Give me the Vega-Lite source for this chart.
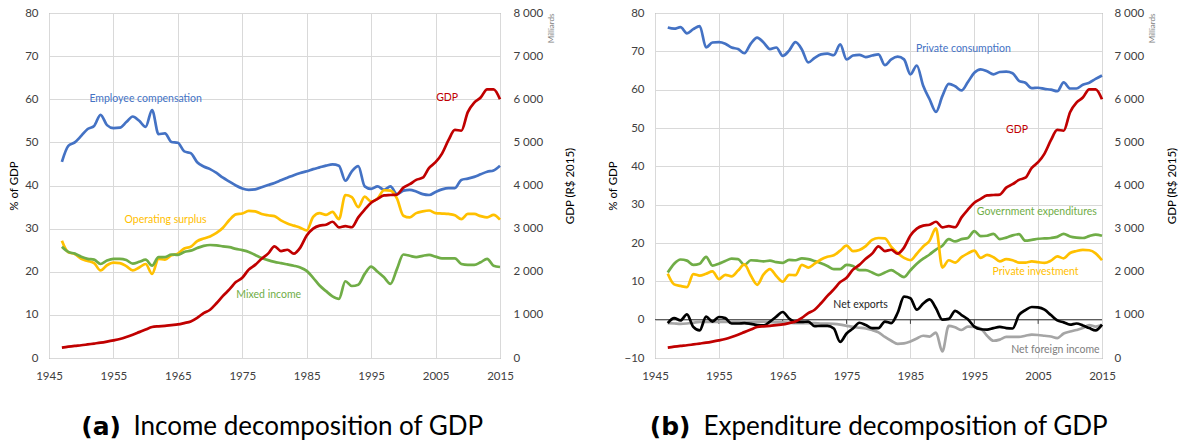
{
  "$schema": "https://vega.github.io/schema/vega-lite/v6.json",
  "padding": {"left": 8, "top": 6, "right": 0, "bottom": 0},
  "spacing": 155,
  "bounds": "flush",
  "config": {
    "font": "Lato",
    "view": {"stroke": "#7f7f7f", "strokeWidth": 1},
    "axis": {
      "labelFont": "Lato", "labelFontSize": 11.5, "labelColor": "#404040",
      "titleFont": "Lato", "titleFontSize": 11.5, "titleFontWeight": "normal", "titleColor": "#000000",
      "ticks": false, "domain": false, "gridColor": "#d9d9d9", "gridWidth": 1
    },
    "line": {"strokeWidth": 2.7, "interpolate": "monotone"}
  },
  "datasets": {
    "annual": [
      {"year":1947,"emp":45.5,"surplus":27.2,"mixed":25.8,"gdp":240,"cons":76.2,"gov":12.3,"inv":12.0,"nx":-0.9,"nfi":-0.9},
      {"year":1948,"emp":49.2,"surplus":24.5,"mixed":24.6,"gdp":262,"cons":75.9,"gov":14.6,"inv":9.2,"nx":0.4,"nfi":-1.0},
      {"year":1949,"emp":50.0,"surplus":24.1,"mixed":24.2,"gdp":280,"cons":76.3,"gov":15.7,"inv":8.8,"nx":-0.2,"nfi":-1.1},
      {"year":1950,"emp":51.5,"surplus":23.0,"mixed":23.5,"gdp":295,"cons":74.7,"gov":15.4,"inv":8.5,"nx":1.4,"nfi":-1.0},
      {"year":1951,"emp":53.1,"surplus":22.5,"mixed":23.0,"gdp":315,"cons":75.8,"gov":14.3,"inv":11.9,"nx":-1.9,"nfi":-0.8},
      {"year":1952,"emp":53.8,"surplus":22.0,"mixed":22.8,"gdp":335,"cons":76.6,"gov":14.6,"inv":11.5,"nx":-2.8,"nfi":-0.6},
      {"year":1953,"emp":56.4,"surplus":20.3,"mixed":21.8,"gdp":355,"cons":71.0,"gov":16.4,"inv":12.0,"nx":0.8,"nfi":-0.6},
      {"year":1954,"emp":54.0,"surplus":21.5,"mixed":22.6,"gdp":380,"cons":72.3,"gov":14.1,"inv":12.6,"nx":-0.5,"nfi":-0.6},
      {"year":1955,"emp":53.3,"surplus":22.1,"mixed":23.0,"gdp":408,"cons":72.4,"gov":14.6,"inv":10.6,"nx":0.7,"nfi":-0.6},
      {"year":1956,"emp":53.4,"surplus":22.0,"mixed":23.0,"gdp":440,"cons":72.0,"gov":15.3,"inv":11.7,"nx":0.4,"nfi":-0.6},
      {"year":1957,"emp":54.7,"surplus":21.3,"mixed":22.7,"gdp":486,"cons":71.0,"gov":15.9,"inv":11.3,"nx":-1.0,"nfi":-0.6},
      {"year":1958,"emp":56.0,"surplus":20.3,"mixed":21.9,"gdp":540,"cons":70.6,"gov":15.8,"inv":12.8,"nx":-1.0,"nfi":-0.6},
      {"year":1959,"emp":55.0,"surplus":21.0,"mixed":22.3,"gdp":600,"cons":69.5,"gov":14.3,"inv":14.4,"nx":-0.9,"nfi":-0.7},
      {"year":1960,"emp":53.6,"surplus":21.8,"mixed":22.8,"gdp":660,"cons":72.0,"gov":15.5,"inv":11.5,"nx":-1.1,"nfi":-0.7},
      {"year":1961,"emp":57.5,"surplus":19.5,"mixed":21.4,"gdp":718,"cons":73.6,"gov":15.4,"inv":9.1,"nx":-1.4,"nfi":-0.6},
      {"year":1962,"emp":51.9,"surplus":23.0,"mixed":23.4,"gdp":735,"cons":72.3,"gov":15.2,"inv":11.8,"nx":-1.5,"nfi":-0.5},
      {"year":1963,"emp":52.1,"surplus":22.8,"mixed":23.4,"gdp":745,"cons":70.6,"gov":15.4,"inv":13.2,"nx":-0.5,"nfi":-0.6},
      {"year":1964,"emp":50.1,"surplus":23.8,"mixed":24.0,"gdp":762,"cons":71.0,"gov":15.0,"inv":11.4,"nx":0.8,"nfi":-0.7},
      {"year":1965,"emp":49.9,"surplus":24.2,"mixed":23.9,"gdp":778,"cons":68.8,"gov":14.8,"inv":9.9,"nx":2.0,"nfi":-0.7},
      {"year":1966,"emp":47.9,"surplus":25.4,"mixed":24.6,"gdp":810,"cons":70.2,"gov":15.6,"inv":11.7,"nx":0.3,"nfi":-0.8},
      {"year":1967,"emp":47.5,"surplus":25.8,"mixed":24.9,"gdp":847,"cons":72.4,"gov":15.5,"inv":11.6,"nx":-0.6,"nfi":-0.9},
      {"year":1968,"emp":45.4,"surplus":27.1,"mixed":25.5,"gdp":930,"cons":70.5,"gov":16.0,"inv":14.3,"nx":-0.6,"nfi":-0.9},
      {"year":1969,"emp":44.4,"surplus":27.7,"mixed":26.0,"gdp":1040,"cons":67.1,"gov":15.8,"inv":13.6,"nx":-0.5,"nfi":-0.9},
      {"year":1970,"emp":43.8,"surplus":28.2,"mixed":26.2,"gdp":1120,"cons":68.3,"gov":15.3,"inv":14.6,"nx":-1.7,"nfi":-0.9},
      {"year":1971,"emp":42.9,"surplus":29.0,"mixed":26.1,"gdp":1270,"cons":69.2,"gov":14.7,"inv":15.7,"nx":-1.6,"nfi":-1.0},
      {"year":1972,"emp":41.8,"surplus":30.2,"mixed":25.9,"gdp":1440,"cons":69.4,"gov":14.0,"inv":16.4,"nx":-1.6,"nfi":-1.0},
      {"year":1973,"emp":40.9,"surplus":32.0,"mixed":25.7,"gdp":1590,"cons":69.0,"gov":13.2,"inv":16.8,"nx":-2.3,"nfi":-1.1},
      {"year":1974,"emp":40.0,"surplus":33.3,"mixed":25.3,"gdp":1760,"cons":71.8,"gov":13.2,"inv":18.0,"nx":-5.8,"nfi":-1.3},
      {"year":1975,"emp":39.3,"surplus":33.5,"mixed":25.0,"gdp":1860,"cons":67.9,"gov":14.3,"inv":19.3,"nx":-3.6,"nfi":-1.6},
      {"year":1976,"emp":39.0,"surplus":34.1,"mixed":24.6,"gdp":2050,"cons":68.9,"gov":14.0,"inv":17.9,"nx":-2.3,"nfi":-1.9},
      {"year":1977,"emp":39.1,"surplus":34.0,"mixed":23.9,"gdp":2160,"cons":69.1,"gov":12.9,"inv":18.2,"nx":-0.8,"nfi":-2.1},
      {"year":1978,"emp":39.6,"surplus":33.4,"mixed":23.2,"gdp":2300,"cons":68.5,"gov":12.9,"inv":19.2,"nx":-1.4,"nfi":-2.3},
      {"year":1979,"emp":40.1,"surplus":33.1,"mixed":22.7,"gdp":2420,"cons":68.9,"gov":12.3,"inv":20.8,"nx":-2.2,"nfi":-2.7},
      {"year":1980,"emp":40.6,"surplus":32.9,"mixed":22.3,"gdp":2590,"cons":69.2,"gov":11.6,"inv":21.3,"nx":-2.2,"nfi":-3.3},
      {"year":1981,"emp":41.2,"surplus":31.9,"mixed":22.0,"gdp":2480,"cons":66.4,"gov":12.3,"inv":21.2,"nx":-0.5,"nfi":-4.5},
      {"year":1982,"emp":41.8,"surplus":31.2,"mixed":21.7,"gdp":2510,"cons":67.9,"gov":12.9,"inv":19.0,"nx":-0.9,"nfi":-5.5},
      {"year":1983,"emp":42.4,"surplus":30.7,"mixed":21.4,"gdp":2420,"cons":68.6,"gov":12.0,"inv":17.4,"nx":1.8,"nfi":-6.3},
      {"year":1984,"emp":42.9,"surplus":30.2,"mixed":21.0,"gdp":2560,"cons":67.9,"gov":11.1,"inv":16.1,"nx":6.0,"nfi":-6.2},
      {"year":1985,"emp":43.3,"surplus":29.6,"mixed":20.2,"gdp":2840,"cons":64.0,"gov":12.9,"inv":15.5,"nx":5.6,"nfi":-5.7},
      {"year":1986,"emp":43.8,"surplus":32.7,"mixed":18.6,"gdp":3000,"cons":66.3,"gov":14.6,"inv":17.2,"nx":2.6,"nfi":-4.9},
      {"year":1987,"emp":44.2,"surplus":33.6,"mixed":16.8,"gdp":3070,"cons":61.0,"gov":15.9,"inv":19.1,"nx":4.2,"nfi":-4.2},
      {"year":1988,"emp":44.6,"surplus":33.2,"mixed":15.5,"gdp":3090,"cons":57.5,"gov":17.0,"inv":20.6,"nx":5.3,"nfi":-4.4},
      {"year":1989,"emp":44.9,"surplus":33.9,"mixed":14.3,"gdp":3160,"cons":54.2,"gov":18.3,"inv":23.8,"nx":3.0,"nfi":-3.4},
      {"year":1990,"emp":44.6,"surplus":32.2,"mixed":13.7,"gdp":3030,"cons":58.3,"gov":19.3,"inv":13.6,"nx":0.0,"nfi":-8.3},
      {"year":1991,"emp":41.1,"surplus":37.8,"mixed":17.8,"gdp":3056,"cons":61.5,"gov":21.0,"inv":15.5,"nx":0.2,"nfi":-1.6},
      {"year":1992,"emp":43.3,"surplus":37.3,"mixed":16.7,"gdp":3032,"cons":60.9,"gov":20.4,"inv":14.9,"nx":2.3,"nfi":-2.0},
      {"year":1993,"emp":44.5,"surplus":35.0,"mixed":17.0,"gdp":3260,"cons":59.8,"gov":21.0,"inv":16.3,"nx":1.2,"nfi":-2.7},
      {"year":1994,"emp":39.8,"surplus":37.4,"mixed":19.5,"gdp":3440,"cons":62.0,"gov":21.3,"inv":17.3,"nx":0.1,"nfi":-1.8},
      {"year":1995,"emp":39.2,"surplus":36.3,"mixed":21.2,"gdp":3600,"cons":64.4,"gov":23.1,"inv":18.0,"nx":-1.8,"nfi":-1.9},
      {"year":1996,"emp":39.8,"surplus":37.0,"mixed":20.0,"gdp":3690,"cons":65.3,"gov":21.8,"inv":16.1,"nx":-2.5,"nfi":-2.3},
      {"year":1997,"emp":39.0,"surplus":38.9,"mixed":18.7,"gdp":3770,"cons":64.8,"gov":21.9,"inv":16.9,"nx":-2.6,"nfi":-4.2},
      {"year":1998,"emp":39.8,"surplus":38.8,"mixed":17.2,"gdp":3780,"cons":64.0,"gov":22.4,"inv":16.3,"nx":-2.2,"nfi":-5.5},
      {"year":1999,"emp":38.0,"surplus":37.0,"mixed":20.6,"gdp":3790,"cons":64.6,"gov":21.0,"inv":15.2,"nx":-1.9,"nfi":-5.2},
      {"year":2000,"emp":38.8,"surplus":33.0,"mixed":24.0,"gdp":3950,"cons":64.7,"gov":21.4,"inv":15.8,"nx":-2.2,"nfi":-4.5},
      {"year":2001,"emp":39.0,"surplus":32.6,"mixed":23.7,"gdp":4030,"cons":64.3,"gov":22.0,"inv":15.5,"nx":-2.3,"nfi":-4.5},
      {"year":2002,"emp":38.6,"surplus":33.6,"mixed":23.4,"gdp":4130,"cons":62.3,"gov":22.3,"inv":14.9,"nx":1.2,"nfi":-4.5},
      {"year":2003,"emp":38.0,"surplus":34.0,"mixed":23.7,"gdp":4180,"cons":61.8,"gov":20.6,"inv":14.9,"nx":2.5,"nfi":-4.2},
      {"year":2004,"emp":37.8,"surplus":34.2,"mixed":23.9,"gdp":4410,"cons":60.4,"gov":20.8,"inv":15.2,"nx":3.3,"nfi":-3.9},
      {"year":2005,"emp":38.5,"surplus":33.6,"mixed":23.5,"gdp":4540,"cons":60.5,"gov":21.1,"inv":15.0,"nx":3.2,"nfi":-4.0},
      {"year":2006,"emp":39.1,"surplus":33.5,"mixed":23.1,"gdp":4740,"cons":60.2,"gov":21.2,"inv":14.8,"nx":2.6,"nfi":-4.2},
      {"year":2007,"emp":39.4,"surplus":33.4,"mixed":23.1,"gdp":5050,"cons":60.0,"gov":21.3,"inv":15.4,"nx":1.2,"nfi":-4.4},
      {"year":2008,"emp":39.4,"surplus":33.1,"mixed":23.1,"gdp":5290,"cons":59.6,"gov":21.6,"inv":16.5,"nx":-0.2,"nfi":-4.8},
      {"year":2009,"emp":41.3,"surplus":32.2,"mixed":21.8,"gdp":5270,"cons":61.9,"gov":22.4,"inv":16.0,"nx":-0.7,"nfi":-3.6},
      {"year":2010,"emp":41.6,"surplus":33.4,"mixed":21.6,"gdp":5700,"cons":60.3,"gov":21.7,"inv":17.4,"nx":-1.3,"nfi":-3.1},
      {"year":2011,"emp":42.0,"surplus":33.4,"mixed":21.6,"gdp":5920,"cons":60.3,"gov":21.4,"inv":17.9,"nx":-1.0,"nfi":-2.7},
      {"year":2012,"emp":42.6,"surplus":32.9,"mixed":22.2,"gdp":6040,"cons":61.3,"gov":21.3,"inv":18.2,"nx":-1.5,"nfi":-2.2},
      {"year":2013,"emp":43.2,"surplus":32.6,"mixed":23.0,"gdp":6230,"cons":61.8,"gov":21.8,"inv":18.1,"nx":-2.2,"nfi":-1.4},
      {"year":2014,"emp":43.5,"surplus":33.2,"mixed":21.4,"gdp":6230,"cons":62.8,"gov":22.2,"inv":17.3,"nx":-2.8,"nfi":-1.8},
      {"year":2015,"emp":44.6,"surplus":32.1,"mixed":21.1,"gdp":6000,"cons":63.7,"gov":21.9,"inv":15.5,"nx":-1.3,"nfi":-1.3}
    ],
    "decades": [
      {"year": 1955}, {"year": 1965}, {"year": 1975}, {"year": 1985}, {"year": 1995}, {"year": 2005}
    ]
  },
  "hconcat": [
    {
      "width": 451,
      "height": 345,
      "layer": [
        {
          "layer": [
            {
              "data": {"name": "annual"},
              "mark": {"type": "line", "color": "#4472C4"},
              "encoding": {
                "x": {
                  "field": "year", "type": "quantitative", "title": null,
                  "scale": {"domain": [1945, 2015], "nice": false, "zero": false},
                  "axis": {"values": [1945, 1955, 1965, 1975, 1985, 1995, 2005, 2015], "tickCount": 10, "format": "d", "grid": true, "labelPadding": 12, "labelFlush": false}
                },
                "y": {
                  "field": "emp", "type": "quantitative", "title": "% of GDP",
                  "scale": {"domain": [0, 80], "nice": false, "zero": false},
                  "axis": {"orient": "left", "values": [0, 10, 20, 30, 40, 50, 60, 70, 80], "tickCount": 12, "grid": true, "labelPadding": 11, "titlePadding": 5}
                }
              }
            },
            {
              "data": {"name": "annual"},
              "mark": {"type": "line", "color": "#FFC000"},
              "encoding": {
                "x": {"field": "year", "type": "quantitative", "title": null},
                "y": {"field": "surplus", "type": "quantitative", "title": "% of GDP"}
              }
            },
            {
              "data": {"name": "annual"},
              "mark": {"type": "line", "color": "#70AD47"},
              "encoding": {
                "x": {"field": "year", "type": "quantitative", "title": null},
                "y": {"field": "mixed", "type": "quantitative", "title": "% of GDP"}
              }
            },
            {
              "data": {"values": [{"label": "Employee compensation"}]},
              "mark": {"type": "text", "color": "#4472C4", "font": "Lato", "fontSize": 10.5},
              "encoding": {"x": {"datum": 1960.0, "type": "quantitative"}, "y": {"datum": 60.0, "type": "quantitative"}, "text": {"field": "label"}}
            },
            {
              "data": {"values": [{"label": "Operating surplus"}]},
              "mark": {"type": "text", "color": "#FFC000", "font": "Lato", "fontSize": 10.5},
              "encoding": {"x": {"datum": 1963.1, "type": "quantitative"}, "y": {"datum": 32.0, "type": "quantitative"}, "text": {"field": "label"}}
            },
            {
              "data": {"values": [{"label": "Mixed income"}]},
              "mark": {"type": "text", "color": "#70AD47", "font": "Lato", "fontSize": 10.5},
              "encoding": {"x": {"datum": 1979.1, "type": "quantitative"}, "y": {"datum": 14.65, "type": "quantitative"}, "text": {"field": "label"}}
            },
            {
              "data": {"values": [{"label": "(a)"}]},
              "mark": {"type": "text", "color": "#000000", "font": "DejaVu Sans", "fontSize": 25, "fontWeight": "bold", "align": "right", "baseline": "alphabetic"},
              "encoding": {"x": {"datum": 1956.17, "type": "quantitative"}, "y": {"datum": -17.9, "type": "quantitative"}, "text": {"field": "label"}}
            },
            {
              "data": {"values": [{"label": "Income decomposition of GDP"}]},
              "mark": {"type": "text", "color": "#000000", "font": "Lato", "fontSize": 26, "align": "left", "baseline": "alphabetic"},
              "encoding": {"x": {"datum": 1958.11, "type": "quantitative"}, "y": {"datum": -17.9, "type": "quantitative"}, "text": {"field": "label"}}
            }
          ]
        },
        {
          "data": {"name": "annual"},
          "mark": {"type": "line", "color": "#C00000"},
          "encoding": {
            "x": {"field": "year", "type": "quantitative", "title": null},
            "y": {
              "field": "gdp", "type": "quantitative",
              "scale": {"domain": [0, 8000], "nice": false, "zero": false},
              "axis": {"orient": "right", "values": [0, 1000, 2000, 3000, 4000, 5000, 6000, 7000, 8000], "tickCount": 12, "grid": false, "labelPadding": 13,
                "labelExpr": "replace(format(datum.value, ','), ',', ' ')",
                "title": "Milliards", "titleFontSize": 8, "titleColor": "#808080", "titleAnchor": "end", "titleAngle": 270, "titleBaseline": "top", "titlePadding": 5}
            }
          }
        },
        {
          "data": {"values": [{"label": "GDP"}]},
          "mark": {"type": "text", "color": "#C00000", "font": "Lato", "fontSize": 10.5},
          "encoding": {
            "x": {"datum": 2006.8, "type": "quantitative"},
            "text": {"field": "label"},
            "y": {"datum": 6040, "type": "quantitative",
              "scale": {"domain": [0, 8000], "nice": false, "zero": false},
              "axis": {"orient": "right", "labels": false, "grid": false, "title": "GDP (R$ 2015)", "titleAngle": 270, "titleBaseline": "top", "offset": 62, "titlePadding": 2}
            }
          }
        }
      ],
      "resolve": {"scale": {"y": "independent"}}
    },
    {
      "width": 447,
      "height": 345,
      "layer": [
        {
          "layer": [
            {
              "data": {"name": "annual"},
              "mark": {"type": "line", "color": "#4472C4"},
              "encoding": {
                "x": {
                  "field": "year", "type": "quantitative", "title": null,
                  "scale": {"domain": [1945, 2015], "nice": false, "zero": false},
                  "axis": {"values": [1945, 1955, 1965, 1975, 1985, 1995, 2005, 2015], "tickCount": 10, "format": "d", "grid": true, "labelPadding": 12, "labelFlush": false}
                },
                "y": {
                  "field": "cons", "type": "quantitative", "title": "% of GDP",
                  "scale": {"domain": [-10, 80], "nice": false, "zero": false},
                  "axis": {"orient": "left", "values": [-10, 0, 10, 20, 30, 40, 50, 60, 70, 80], "tickCount": 12, "grid": true, "labelPadding": 11, "titlePadding": 5}
                }
              }
            },
            {
              "data": {"values": [{}]},
              "mark": {"type": "rule", "color": "#404040", "strokeWidth": 1},
              "encoding": {"x": {"datum": 1945, "type": "quantitative"}, "x2": {"datum": 2015}, "y": {"datum": 0, "type": "quantitative"}}
            },
            {
              "data": {"name": "decades"},
              "mark": {"type": "rule", "color": "#404040", "strokeWidth": 1},
              "encoding": {"x": {"field": "year", "type": "quantitative", "title": null}, "y": {"datum": 0, "type": "quantitative"}, "y2": {"datum": -1.1}}
            },
            {
              "data": {"name": "annual"},
              "mark": {"type": "line", "color": "#70AD47"},
              "encoding": {
                "x": {"field": "year", "type": "quantitative", "title": null},
                "y": {"field": "gov", "type": "quantitative", "title": "% of GDP"}
              }
            },
            {
              "data": {"name": "annual"},
              "mark": {"type": "line", "color": "#FFC000"},
              "encoding": {
                "x": {"field": "year", "type": "quantitative", "title": null},
                "y": {"field": "inv", "type": "quantitative", "title": "% of GDP"}
              }
            },
            {
              "data": {"name": "annual"},
              "mark": {"type": "line", "color": "#A5A5A5"},
              "encoding": {
                "x": {"field": "year", "type": "quantitative", "title": null},
                "y": {"field": "nfi", "type": "quantitative", "title": "% of GDP"}
              }
            },
            {
              "data": {"name": "annual"},
              "mark": {"type": "line", "color": "#000000"},
              "encoding": {
                "x": {"field": "year", "type": "quantitative", "title": null},
                "y": {"field": "nx", "type": "quantitative", "title": "% of GDP"}
              }
            },
            {
              "data": {"values": [{"label": "Private consumption"}]},
              "mark": {"type": "text", "color": "#4472C4", "font": "Lato", "fontSize": 10.5},
              "encoding": {"x": {"datum": 1993.3, "type": "quantitative"}, "y": {"datum": 70.7, "type": "quantitative"}, "text": {"field": "label"}}
            },
            {
              "data": {"values": [{"label": "Government expenditures"}]},
              "mark": {"type": "text", "color": "#70AD47", "font": "Lato", "fontSize": 10.5},
              "encoding": {"x": {"datum": 2004.8, "type": "quantitative"}, "y": {"datum": 28.1, "type": "quantitative"}, "text": {"field": "label"}}
            },
            {
              "data": {"values": [{"label": "Private investment"}]},
              "mark": {"type": "text", "color": "#FFC000", "font": "Lato", "fontSize": 10.5},
              "encoding": {"x": {"datum": 2004.6, "type": "quantitative"}, "y": {"datum": 12.4, "type": "quantitative"}, "text": {"field": "label"}}
            },
            {
              "data": {"values": [{"label": "Net exports"}]},
              "mark": {"type": "text", "color": "#262626", "font": "Lato", "fontSize": 10.5},
              "encoding": {"x": {"datum": 1977.2, "type": "quantitative"}, "y": {"datum": 3.7, "type": "quantitative"}, "text": {"field": "label"}}
            },
            {
              "data": {"values": [{"label": "Net foreign income"}]},
              "mark": {"type": "text", "color": "#808080", "font": "Lato", "fontSize": 10.5},
              "encoding": {"x": {"datum": 2007.7, "type": "quantitative"}, "y": {"datum": -8.0, "type": "quantitative"}, "text": {"field": "label"}}
            },
            {
              "data": {"values": [{"label": "(b)"}]},
              "mark": {"type": "text", "color": "#000000", "font": "DejaVu Sans", "fontSize": 25, "fontWeight": "bold", "align": "right", "baseline": "alphabetic"},
              "encoding": {"x": {"datum": 1950.56, "type": "quantitative"}, "y": {"datum": -30.2, "type": "quantitative"}, "text": {"field": "label"}}
            },
            {
              "data": {"values": [{"label": "Expenditure decomposition of GDP"}]},
              "mark": {"type": "text", "color": "#000000", "font": "Lato", "fontSize": 26, "align": "left", "baseline": "alphabetic"},
              "encoding": {"x": {"datum": 1952.6, "type": "quantitative"}, "y": {"datum": -30.2, "type": "quantitative"}, "text": {"field": "label"}}
            }
          ]
        },
        {
          "data": {"name": "annual"},
          "mark": {"type": "line", "color": "#C00000"},
          "encoding": {
            "x": {"field": "year", "type": "quantitative", "title": null},
            "y": {
              "field": "gdp", "type": "quantitative",
              "scale": {"domain": [0, 8000], "nice": false, "zero": false},
              "axis": {"orient": "right", "values": [0, 1000, 2000, 3000, 4000, 5000, 6000, 7000, 8000], "tickCount": 12, "grid": false, "labelPadding": 12,
                "labelExpr": "replace(format(datum.value, ','), ',', ' ')",
                "title": "Milliards", "titleFontSize": 8, "titleColor": "#808080", "titleAnchor": "end", "titleAngle": 270, "titleBaseline": "top", "titlePadding": 5}
            }
          }
        },
        {
          "data": {"values": [{"label": "GDP"}]},
          "mark": {"type": "text", "color": "#C00000", "font": "Lato", "fontSize": 10.5},
          "encoding": {
            "x": {"datum": 2001.7, "type": "quantitative"},
            "text": {"field": "label"},
            "y": {"datum": 5281, "type": "quantitative",
              "scale": {"domain": [0, 8000], "nice": false, "zero": false},
              "axis": {"orient": "right", "labels": false, "grid": false, "title": "GDP (R$ 2015)", "titleAngle": 270, "titleBaseline": "top", "offset": 62, "titlePadding": 2}
            }
          }
        }
      ],
      "resolve": {"scale": {"y": "independent"}}
    }
  ]
}
